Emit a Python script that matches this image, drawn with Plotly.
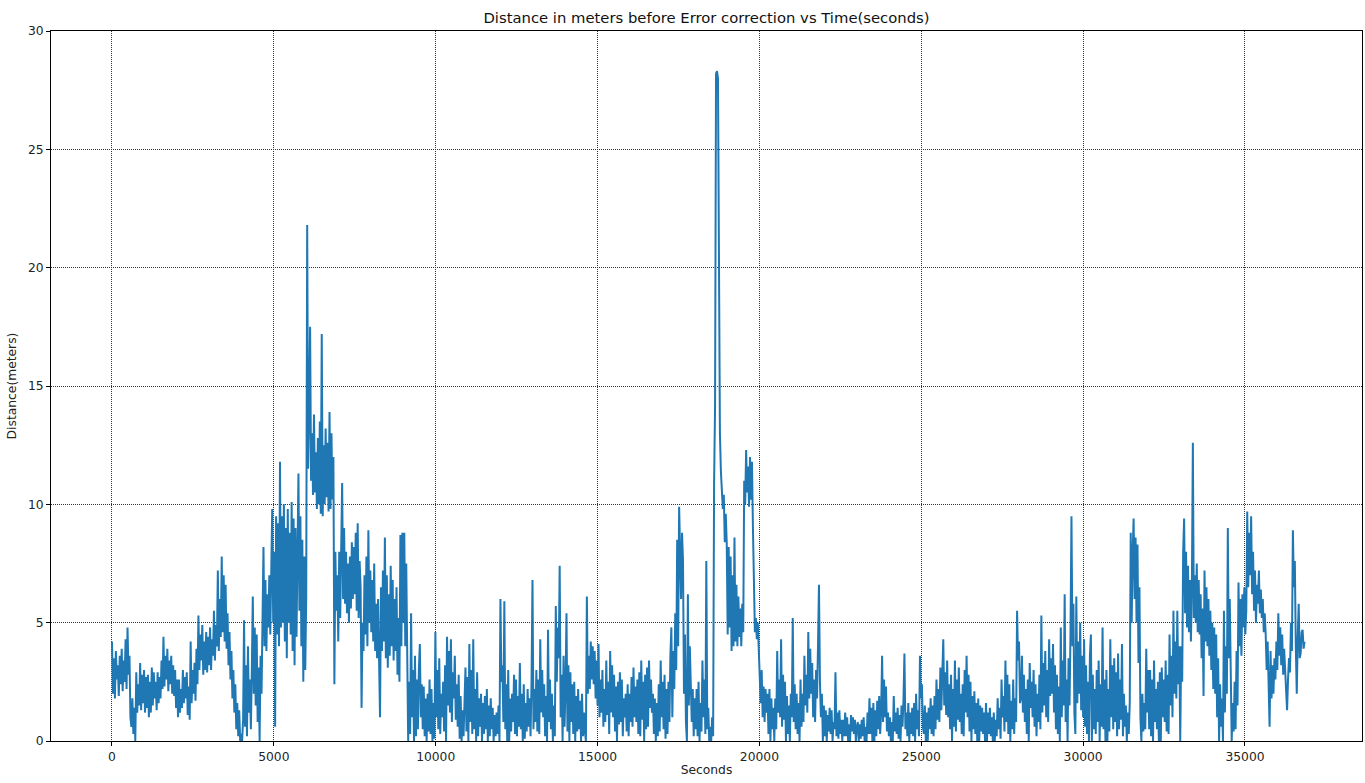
import plotly.graph_objects as go

STEP = 30  # seconds between samples

# Distance (meters), one list per 3000-second block (30 s apart)
dist_00000 = [4.2, 2.0, 3.5, 1.8, 3.8, 2.6, 3.2, 1.9, 3.6, 2.4, 3.9, 2.1, 3.4, 2.5, 4.3, 2.2,
              4.8, 2.8, 3.6, 1.0, 0.6, 1.8, 0.3, 1.4, 0.0, 2.9, 1.2, 2.4, 1.5, 3.3, 1.3, 2.8,
              1.6, 3.0, 1.2, 2.7, 1.4, 2.8, 1.0, 2.5, 1.2, 3.1, 1.5, 2.9, 1.8, 2.5, 1.3, 2.9,
              1.6, 2.7, 1.8, 3.4, 2.2, 4.4, 2.3, 3.6, 2.6, 3.9, 2.1, 3.4, 2.4, 3.6, 2.0, 3.2,
              1.9, 3.0, 1.4, 2.6, 1.0, 2.6, 1.2, 2.2, 1.4, 3.0, 1.6, 2.7, 1.8, 2.9, 1.1, 2.3,
              0.9, 4.2, 1.6, 3.0, 2.0, 3.3, 1.7, 3.9, 2.4, 5.3, 3.0, 4.5, 3.4, 4.9, 2.8, 4.2,
              3.0, 4.6, 2.9, 4.4]
dist_03000 = [3.2, 4.8, 3.0, 4.3, 3.6, 5.5, 3.4, 4.9, 4.0, 7.2, 3.8, 6.0, 4.4, 7.8, 4.6, 7.0,
              4.2, 6.6, 3.9, 5.4, 3.2, 4.6, 2.6, 3.8, 1.8, 3.0, 1.2, 2.4, 0.5, 1.6, 0.2, 1.3,
              0.0, 0.3, 0.0, 0.9, 5.1, 0.6, 3.2, 0.2, 4.0, 1.2, 2.6, 0.5, 3.0, 6.1, 2.0, 4.8,
              1.5, 4.5, 0.8, 3.1, 0.0, 3.6, 2.0, 7.0, 8.2, 4.0, 6.8, 3.8, 6.2, 4.8, 7.0, 4.5,
              7.6, 9.8, 5.0, 8.0, 0.6, 9.5, 4.5, 9.2, 4.0, 11.8, 4.8, 9.5, 5.0, 10.0, 4.2, 9.0,
              3.5, 9.8, 5.0, 8.8, 4.5, 10.1, 3.8, 9.4, 3.2, 9.0, 4.4, 8.0, 11.3, 5.5, 9.5, 4.0,
              8.5, 2.5, 7.8, 3.0]
dist_06000 = [6.0, 21.8, 11.5, 14.0, 17.5, 11.0, 13.0, 10.4, 13.8, 10.5, 12.2, 9.8, 12.8, 10.0, 13.5, 9.6,
              17.2, 9.5, 12.5, 10.0, 13.2, 10.3, 12.6, 9.7, 13.9, 9.8, 13.0, 10.2, 12.0, 2.4, 8.0, 5.5,
              7.0, 4.2, 8.0, 5.2, 8.5, 10.9, 6.0, 9.0, 5.8, 8.0, 5.4, 7.5, 5.0, 7.8, 5.6, 8.4,
              6.0, 8.2, 6.2, 8.8, 5.5, 9.2, 5.2, 7.6, 6.5, 1.4, 5.0, 3.8, 7.0, 4.5, 7.8, 4.0,
              8.9, 5.0, 7.2, 4.6, 6.8, 4.2, 7.5, 3.8, 5.8, 3.5, 6.0, 2.8, 1.0, 6.5, 3.8, 7.2,
              4.2, 8.6, 3.5, 7.0, 3.1, 6.2, 3.6, 7.4, 4.0, 6.8, 3.4, 6.0, 3.8, 6.5, 2.8, 5.2,
              2.5, 8.7, 4.0, 8.8]
dist_09000 = [5.0, 8.8, 4.0, 7.5, 3.0, 0.0, 2.5, 0.3, 5.4, 1.0, 3.0, 0.0, 3.6, 0.2, 2.6, 0.5,
              3.0, 4.1, 1.0, 2.4, 0.5, 2.3, 0.2, 1.8, 0.0, 2.0, 0.4, 2.6, 0.3, 2.2, 0.0, 1.6,
              0.1, 4.6, 1.0, 3.0, 0.5, 3.5, 0.3, 2.0, 1.0, 2.5, 0.4, 3.2, 0.0, 4.4, 1.5, 3.8,
              1.2, 4.3, 0.8, 2.9, 1.8, 3.6, 0.9, 2.4, 0.6, 2.8, 0.1, 1.9, 0.0, 1.3, 0.2, 2.0,
              3.1, 0.4, 2.7, 0.0, 4.1, 0.8, 3.0, 0.3, 4.3, 0.5, 2.2, 0.0, 2.9, 0.2, 1.8, 0.6,
              2.0, 0.0, 1.6, 0.3, 1.9, 0.5, 2.2, 0.0, 1.5, 0.2, 1.8, 0.5, 1.4, 0.0, 1.1, 0.2,
              1.2, 0.3, 1.5, 0.0]
dist_12000 = [6.0, 2.5, 3.2, 0.8, 5.9, 0.5, 2.4, 0.0, 3.0, 0.0, 1.8, 0.4, 2.0, 0.8, 2.8, 0.3,
              2.6, 0.2, 1.9, 0.6, 3.3, 0.5, 2.0, 0.0, 2.4, 0.1, 1.6, 0.4, 2.2, 0.6, 1.8, 0.2,
              2.5, 6.8, 0.5, 2.2, 0.8, 3.0, 0.4, 2.6, 0.3, 4.3, 1.2, 3.0, 1.0, 2.4, 0.2, 1.9,
              0.0, 4.7, 0.8, 2.6, 0.5, 2.0, 0.0, 1.5, 0.2, 5.7, 2.5, 4.8, 3.5, 7.4, 1.0, 2.8,
              0.0, 3.6, 0.6, 2.2, 5.4, 0.4, 3.2, 0.0, 2.9, 0.8, 2.4, 0.3, 2.5, 0.0, 1.9, 0.4,
              2.2, 0.5, 1.7, 0.0, 2.0, 0.2, 1.2, 0.4, 0.0, 6.1, 2.0, 3.6, 2.2, 4.2, 2.6, 4.0,
              2.4, 3.8, 1.8, 3.4]
dist_15000 = [1.5, 4.1, 1.0, 2.6, 1.2, 3.0, 0.6, 2.2, 0.8, 3.4, 1.1, 2.5, 0.3, 3.8, 1.2, 3.2,
              1.0, 2.8, 0.4, 2.3, 0.0, 2.5, 0.7, 2.9, 0.8, 2.6, 0.2, 1.8, 1.0, 2.0, 0.4, 2.4,
              0.2, 2.0, 0.8, 2.7, 0.6, 3.1, 1.0, 2.3, 0.8, 2.6, 0.3, 2.9, 0.2, 3.4, 0.9, 2.5,
              0.0, 2.8, 0.5, 3.1, 0.6, 3.4, 1.4, 2.6, 1.2, 2.0, 0.3, 1.8, 0.0, 1.6, 0.2, 2.4,
              0.4, 3.4, 1.0, 2.5, 0.5, 2.8, 0.1, 2.2, 0.3, 2.5, 0.8, 3.6, 4.8, 1.0, 3.8, 2.2,
              5.4, 3.0, 8.5, 4.0, 9.9, 8.0, 6.0, 8.8, 7.6, 2.0, 4.5, 0.8, 0.0, 6.2, 1.5, 4.0,
              2.5, 0.8, 2.2, 0.2]
dist_18000 = [1.8, 0.5, 2.2, 0.2, 2.5, 0.0, 1.6, 0.4, 3.4, 1.0, 2.6, 0.3, 7.6, 0.5, 1.4, 0.0,
              0.6, 0.0, 1.0, 0.2, 10.9, 14.2, 28.2, 28.3, 28.0, 17.7, 13.0, 11.4, 10.5, 9.8, 10.4, 8.4,
              9.6, 8.4, 4.5, 8.2, 4.8, 7.8, 3.8, 7.0, 4.0, 8.6, 4.2, 6.6, 4.0, 6.1, 4.4, 5.6,
              4.0, 5.8, 4.6, 11.0, 10.0, 12.3, 10.5, 11.6, 9.9, 12.0, 10.2, 11.8, 9.0, 7.0, 4.6, 5.2,
              4.3, 5.0, 4.1, 3.2, 1.6, 3.0, 1.0, 2.3, 0.8, 2.2, 1.2, 2.0, 0.3, 2.2, 0.0, 1.8,
              0.5, 1.4, 0.0, 1.8, 0.5, 3.8, 1.2, 2.6, 1.0, 4.3, 0.6, 2.8, 0.9, 2.5, 0.0, 1.9,
              0.3, 1.5, 0.0, 2.0]
dist_21000 = [1.0, 5.2, 0.8, 2.4, 0.5, 2.0, 0.3, 1.6, 0.0, 2.6, 0.6, 2.0, 0.8, 3.6, 1.5, 2.8,
              1.2, 4.6, 1.8, 3.9, 2.0, 3.3, 1.0, 2.6, 0.8, 3.0, 1.8, 4.0, 6.6, 2.5, 1.0, 2.0,
              0.0, 1.5, 0.2, 1.3, 0.0, 1.1, 0.4, 1.4, 0.3, 1.3, 0.0, 0.8, 0.5, 2.9, 0.2, 1.2,
              0.1, 1.3, 0.3, 0.9, 0.0, 0.9, 0.2, 1.2, 0.2, 1.0, 0.0, 0.7, 0.0, 1.1, 0.4, 1.0,
              0.3, 0.9, 0.0, 0.6, 0.8, 0.0, 0.7, 0.1, 0.9, 0.2, 1.0, 0.0, 0.6, 0.0, 1.2, 0.3,
              1.8, 0.3, 1.4, 0.0, 1.6, 0.0, 1.3, 0.2, 1.7, 0.5, 1.9, 0.3, 1.2, 3.6, 0.8, 2.6,
              1.0, 2.3, 0.4, 1.2]
dist_24000 = [0.2, 1.0, 0.0, 0.8, 0.0, 1.9, 0.4, 1.2, 0.3, 1.4, 0.1, 1.1, 0.0, 1.5, 0.6, 1.7,
              3.7, 0.5, 1.2, 0.2, 1.6, 0.0, 1.2, 0.3, 1.4, 0.2, 1.6, 0.0, 2.0, 0.5, 1.3, 0.2,
              3.6, 1.8, 2.4, 0.6, 0.3, 1.5, 0.0, 1.2, 0.0, 1.4, 0.5, 1.8, 0.3, 1.5, 0.2, 1.9,
              0.5, 2.6, 0.9, 2.2, 0.8, 3.1, 1.3, 2.8, 4.3, 1.5, 2.9, 1.1, 3.4, 1.0, 2.4, 0.5,
              2.8, 0.0, 2.2, 0.6, 3.4, 0.4, 2.6, 0.9, 3.1, 0.8, 2.0, 0.3, 2.4, 0.2, 3.0, 1.2,
              3.6, 1.0, 2.8, 0.4, 2.5, 0.0, 1.9, 0.5, 2.1, 0.3, 1.6, 0.0, 1.8, 0.0, 1.5, 0.4,
              1.4, 0.3, 1.2, 0.0]
dist_27000 = [1.6, 0.0, 1.2, 0.3, 1.4, 0.2, 1.0, 0.0, 1.2, 0.0, 0.9, 0.2, 1.8, 0.5, 1.4, 0.1,
              2.6, 1.0, 1.9, 0.4, 3.4, 0.8, 2.8, 0.3, 2.4, 0.0, 1.7, 0.5, 2.6, 0.3, 1.8, 0.8,
              5.5, 3.4, 4.2, 1.6, 1.8, 3.6, 1.2, 2.8, 0.8, 2.2, 0.3, 2.6, 0.0, 3.3, 1.4, 2.5,
              1.0, 3.0, 0.6, 2.4, 0.2, 2.0, 0.8, 2.8, 0.5, 5.3, 1.2, 3.3, 1.5, 3.8, 1.0, 3.0,
              0.8, 4.3, 1.9, 3.5, 2.0, 4.1, 1.2, 3.2, 0.5, 2.8, 0.3, 2.3, 0.0, 4.8, 1.0, 3.4,
              1.5, 6.2, 0.8, 2.6, 0.0, 3.5, 1.5, 4.6, 9.5, 4.0, 5.8, 1.2, 0.3, 6.1, 1.6, 4.2,
              2.0, 5.0, 1.3, 3.6]
dist_30000 = [1.0, 4.3, 0.6, 3.2, 0.3, 2.5, 0.0, 3.6, 4.5, 0.0, 2.8, 0.5, 2.2, 0.3, 3.0, 0.8,
              3.4, 0.0, 2.4, 0.6, 4.8, 0.5, 2.6, 0.0, 3.0, 0.0, 2.2, 0.4, 4.3, 1.0, 3.2, 0.5,
              3.5, 0.8, 2.9, 0.2, 3.7, 0.5, 2.6, 0.9, 4.1, 0.2, 2.0, 0.6, 1.5, 0.0, 1.2, 0.3,
              1.6, 8.8, 5.0, 8.0, 9.4, 6.0, 8.6, 5.0, 8.3, 3.3, 6.5, 1.0, 0.0, 2.0, 0.4, 1.6,
              0.5, 3.9, 1.2, 3.0, 0.5, 3.0, 0.2, 2.6, 0.0, 3.4, 0.8, 2.2, 0.5, 2.5, 0.0, 2.9,
              0.0, 3.1, 1.0, 2.6, 0.8, 3.4, 0.4, 2.8, 0.3, 4.5, 1.5, 3.6, 1.0, 5.5, 2.0, 4.2,
              1.8, 5.5, 2.4, 4.0]
dist_33000 = [0.0, 4.0, 2.5, 8.0, 9.4, 5.4, 8.0, 4.8, 7.4, 4.6, 6.8, 4.2, 6.5, 12.6, 5.2, 7.0,
              5.0, 7.5, 4.6, 6.8, 4.5, 6.2, 3.5, 5.6, 1.9, 7.2, 4.2, 6.5, 4.0, 6.0, 3.6, 5.5,
              3.0, 5.0, 2.2, 4.8, 2.0, 4.5, 1.0, 3.5, 0.0, 2.4, 0.6, 1.8, 0.0, 5.5, 1.2, 4.0,
              2.0, 9.0, 3.5, 6.0, 3.0, 0.0, 1.6, 0.4, 2.5, 0.5, 3.8, 1.5, 6.7, 4.0, 6.0, 3.6,
              6.2, 4.8, 6.5, 4.5, 5.5, 9.7, 6.5, 8.8, 7.0, 9.5, 6.2, 8.0, 5.5, 7.2, 5.0, 6.6,
              5.8, 7.2, 5.4, 6.4, 5.2, 6.0, 4.6, 5.4, 4.5, 3.0, 4.2, 1.5, 0.6, 3.8, 1.8, 3.2,
              2.0, 3.5, 2.6, 4.2]
dist_36000 = [3.0, 5.4, 3.6, 4.8, 3.2, 4.5, 2.8, 3.9, 3.0, 2.0, 1.3, 2.6, 3.5, 2.9, 5.0, 3.8,
              8.9, 6.5, 7.6, 4.0, 2.0, 4.4, 5.8, 3.5, 3.7, 4.6, 4.7, 3.9, 4.2]

block_starts = [0, 3000, 6000, 9000, 12000, 15000, 18000, 21000, 24000, 27000, 30000, 33000, 36000]
block_values = [dist_00000, dist_03000, dist_06000, dist_09000, dist_12000, dist_15000, dist_18000,
                dist_21000, dist_24000, dist_27000, dist_30000, dist_33000, dist_36000]

seconds, distance = [], []
for start, vals in zip(block_starts, block_values):
    for i, v in enumerate(vals):
        seconds.append(start + i * STEP)
        distance.append(v)

x_ticks = [0, 5000, 10000, 15000, 20000, 25000, 30000, 35000]
y_ticks = [0, 5, 10, 15, 20, 25, 30]

FONT = "DejaVu Sans"
TICK_SIZE = 12.3

fig = go.Figure()
fig.add_trace(go.Scatter(x=seconds, y=distance, mode="lines",
                         line=dict(color="#1f77b4", width=2), showlegend=False,
                         hoverinfo="skip"))

axis_common = dict(
    showline=True, linecolor="black", linewidth=1, mirror=True,
    ticks="outside", ticklen=4, tickcolor="black", tickwidth=1,
    showgrid=True, gridcolor="#333333", griddash="1px,1px", gridwidth=1,
    zeroline=False, tickfont=dict(family=FONT, size=TICK_SIZE, color="#222"),
    automargin=False,
)

fig.update_layout(
    width=1365, height=783,
    margin=dict(l=51, r=3, t=31, b=42, autoexpand=False),
    paper_bgcolor="white", plot_bgcolor="white",
    title=dict(text="Distance in meters before Error correction vs Time(seconds)",
               x=(51 + 1362) / 2 / 1365, xanchor="center", y=1 - 18 / 783, yanchor="middle",
               font=dict(family=FONT, size=14.8, color="#111")),
    xaxis=dict(range=[-1884, 38615], tickvals=x_ticks, ticktext=[str(v) for v in x_ticks],
               title=dict(text="Seconds", font=dict(family=FONT, size=TICK_SIZE, color="#222"), standoff=2),
               **axis_common),
    yaxis=dict(range=[0, 30], tickvals=y_ticks, ticktext=[str(v) for v in y_ticks],
               title=dict(text="Distance(meters)", font=dict(family=FONT, size=TICK_SIZE, color="#222"), standoff=8),
               **axis_common),
)

fig.write_html("out.html", config={"displayModeBar": False},
               post_script="document.body.style.margin='0';document.body.style.padding='0';")
